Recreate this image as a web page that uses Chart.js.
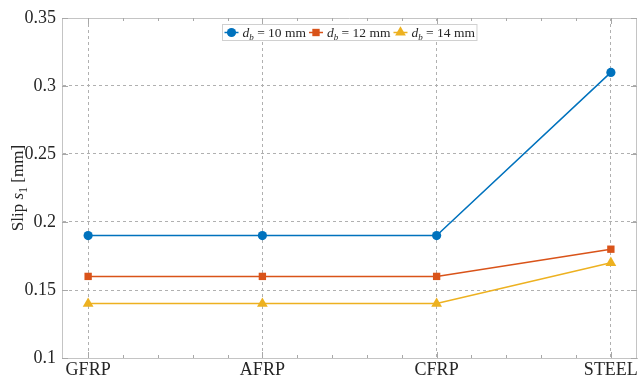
<!DOCTYPE html>
<html>
<head>
<meta charset="utf-8">
<script src="https://cdn.jsdelivr.net/npm/chart.js@4.4.1/dist/chart.umd.min.js"></script>
<style>
	html, body { margin: 0; padding: 0; background: #fff; }
</style>
</head>
<body>
<canvas id="chart" width="638" height="378"></canvas>
<script>
// data
var categories = ['GFRP', 'AFRP', 'CFRP', 'STEEL'];
var diameters = ['10', '12', '14'];
var slip10 = [0.19, 0.19, 0.19, 0.31];
var slip12 = [0.16, 0.16, 0.16, 0.18];
var slip14 = [0.14, 0.14, 0.14, 0.17];
var yTicks = [0.1, 0.15, 0.2, 0.25, 0.3, 0.35];

var colors = ['#0072BD', '#D95319', '#EDB120'];
var styles = ['circle', 'rect', 'triangle'];
var radii = [4.6, 5.2, 6.2];
var SERIF = '"Liberation Serif", "DejaVu Serif", serif';

function toPoints(arr) {
	return arr.map(function (v, i) { return { x: i + 1, y: v }; });
}

var series = [slip10, slip12, slip14];
var datasets = series.map(function (s, k) {
	return {
		label: 'd_b = ' + diameters[k] + ' mm',
		data: toPoints(s),
		borderColor: colors[k],
		backgroundColor: colors[k],
		borderWidth: 1.5,
		pointStyle: styles[k],
		pointRadius: radii[k],
		pointHoverRadius: radii[k],
		pointBorderWidth: 0,
		tension: 0
	};
});

// draw a marker by hand (used in the legend)
function marker(ctx, style, r, x, y, color) {
	ctx.fillStyle = color;
	ctx.beginPath();
	if (style === 'circle') {
		ctx.arc(x, y, r, 0, Math.PI * 2);
	} else if (style === 'rect') {
		var s = r * Math.SQRT1_2;
		ctx.rect(x - s, y - s, 2 * s, 2 * s);
	} else {
		ctx.moveTo(x, y - r);
		ctx.lineTo(x + r * 0.866, y + r * 0.5);
		ctx.lineTo(x - r * 0.866, y + r * 0.5);
		ctx.closePath();
	}
	ctx.fill();
}

function richWidth(ctx, parts) {
	var w = 0;
	parts.forEach(function (p) { ctx.font = p.font; w += ctx.measureText(p.t).width; });
	return w;
}
function drawRich(ctx, parts, x, y) {
	parts.forEach(function (p) {
		ctx.font = p.font;
		ctx.fillText(p.t, x, y + (p.dy || 0));
		x += ctx.measureText(p.t).width;
	});
	return x;
}

var matlabBox = {
	id: 'matlabBox',
	afterDraw: function (chart) {
		var ctx = chart.ctx, a = chart.chartArea;
		var xs = chart.scales.x, ys = chart.scales.y;
		ctx.save();

		// box top / right
		ctx.strokeStyle = '#c4c4c4';
		ctx.lineWidth = 1;
		ctx.beginPath();
		ctx.moveTo(a.left, a.top + 0.5); ctx.lineTo(a.right, a.top + 0.5);
		ctx.moveTo(a.right - 0.5, a.top); ctx.lineTo(a.right - 0.5, a.bottom);
		ctx.stroke();

		// ticks, inward
		ctx.strokeStyle = '#a8a8a8';
		ctx.beginPath();
		for (var v = 1; v <= 4.001; v += 0.2) {
			var px = Math.round(xs.getPixelForValue(v)) + 0.5;
			var major = Math.abs(v - Math.round(v)) < 0.01;
			var len = major ? 6 : 3;
			ctx.moveTo(px, a.bottom); ctx.lineTo(px, a.bottom - len);
			ctx.moveTo(px, a.top); ctx.lineTo(px, a.top + len);
		}
		yTicks.forEach(function (t) {
			var py = Math.round(ys.getPixelForValue(t)) + 0.5;
			ctx.moveTo(a.left, py); ctx.lineTo(a.left + 6, py);
			ctx.moveTo(a.right, py); ctx.lineTo(a.right - 6, py);
		});
		ctx.stroke();

		// y axis title: Slip s_1 [mm]
		var big = '17px ' + SERIF, ital = 'italic 17px ' + SERIF, sub = '12px ' + SERIF;
		var ylab = [
			{ t: 'Slip ', font: big },
			{ t: 's', font: ital },
			{ t: '1', font: sub, dy: 4 },
			{ t: ' [mm]', font: big }
		];
		ctx.fillStyle = '#262626';
		ctx.textBaseline = 'alphabetic';
		ctx.translate(23, (a.top + a.bottom) / 2);
		ctx.rotate(-Math.PI / 2);
		drawRich(ctx, ylab, -richWidth(ctx, ylab) / 2, 0);
		ctx.setTransform(1, 0, 0, 1, 0, 0);

		// legend
		var lf = '13.5px ' + SERIF, li = 'italic 13.5px ' + SERIF, ls = 'italic 9px ' + SERIF;
		var items = diameters.map(function (d) {
			return [
				{ t: 'd', font: li },
				{ t: 'b', font: ls, dy: 3 },
				{ t: ' = ' + d + ' mm', font: lf }
			];
		});
		var lineLen = 14, gap = 4, pad = 2;
		var total = pad;
		items.forEach(function (it) { total += lineLen + gap + richWidth(ctx, it) + 3; });
		total += pad - 3;
		var bx = Math.round((a.left + a.right) / 2 - total / 2) + 0.5, by = 24.5, bh = 16;
		ctx.fillStyle = '#fff';
		ctx.fillRect(bx, by, total, bh);
		ctx.strokeStyle = '#d0d0d0';
		ctx.strokeRect(bx, by, total, bh);
		var cx = bx + pad, cy = by + bh / 2;
		items.forEach(function (it, k) {
			ctx.strokeStyle = colors[k];
			ctx.lineWidth = 1.5;
			ctx.beginPath();
			ctx.moveTo(cx, cy); ctx.lineTo(cx + lineLen, cy);
			ctx.stroke();
			marker(ctx, styles[k], radii[k], cx + lineLen / 2, cy, colors[k]);
			cx += lineLen + gap;
			ctx.fillStyle = '#262626';
			ctx.textBaseline = 'alphabetic';
			cx = drawRich(ctx, it, cx, cy + 4.5) + 3;
		});

		ctx.restore();
	}
};

var chart = new Chart(document.getElementById('chart'), {
	type: 'line',
	data: { datasets: datasets },
	options: {
		responsive: false,
		animation: false,
		layout: { autoPadding: false, padding: { top: 18, right: 1, left: 0, bottom: 0 } },
		plugins: { legend: { display: false }, tooltip: { enabled: false } },
		scales: {
			x: {
				type: 'linear',
				min: 0.85,
				max: 4.15,
				afterBuildTicks: function (scale) {
					scale.ticks = categories.map(function (c, i) { return { value: i + 1 }; });
				},
				afterFit: function (scale) {
					scale.height = 20;
					scale.paddingLeft = 0;
					scale.paddingRight = 0;
				},
				ticks: {
					autoSkip: false,
					maxRotation: 0,
					padding: 1,
					color: '#262626',
					font: { family: SERIF, size: 18 },
					callback: function (v) { return categories[Math.round(v) - 1]; }
				},
				grid: { color: '#b0b0b0', drawTicks: false },
				border: { color: '#c4c4c4', dash: [3, 3] }
			},
			y: {
				min: 0.1,
				max: 0.35,
				afterBuildTicks: function (scale) {
					scale.ticks = yTicks.map(function (t) { return { value: t }; });
				},
				afterFit: function (scale) {
					scale.width = 62;
					scale.paddingTop = 0;
					scale.paddingBottom = 0;
				},
				ticks: {
					padding: 6,
					color: '#262626',
					font: { family: SERIF, size: 18 },
					callback: function (v) { return String(+v.toFixed(2)); }
				},
				grid: { color: '#b0b0b0', drawTicks: false },
				border: { color: '#c4c4c4', dash: [3, 3] }
			}
		}
	},
	plugins: [matlabBox]
});
</script>
</body>
</html>
